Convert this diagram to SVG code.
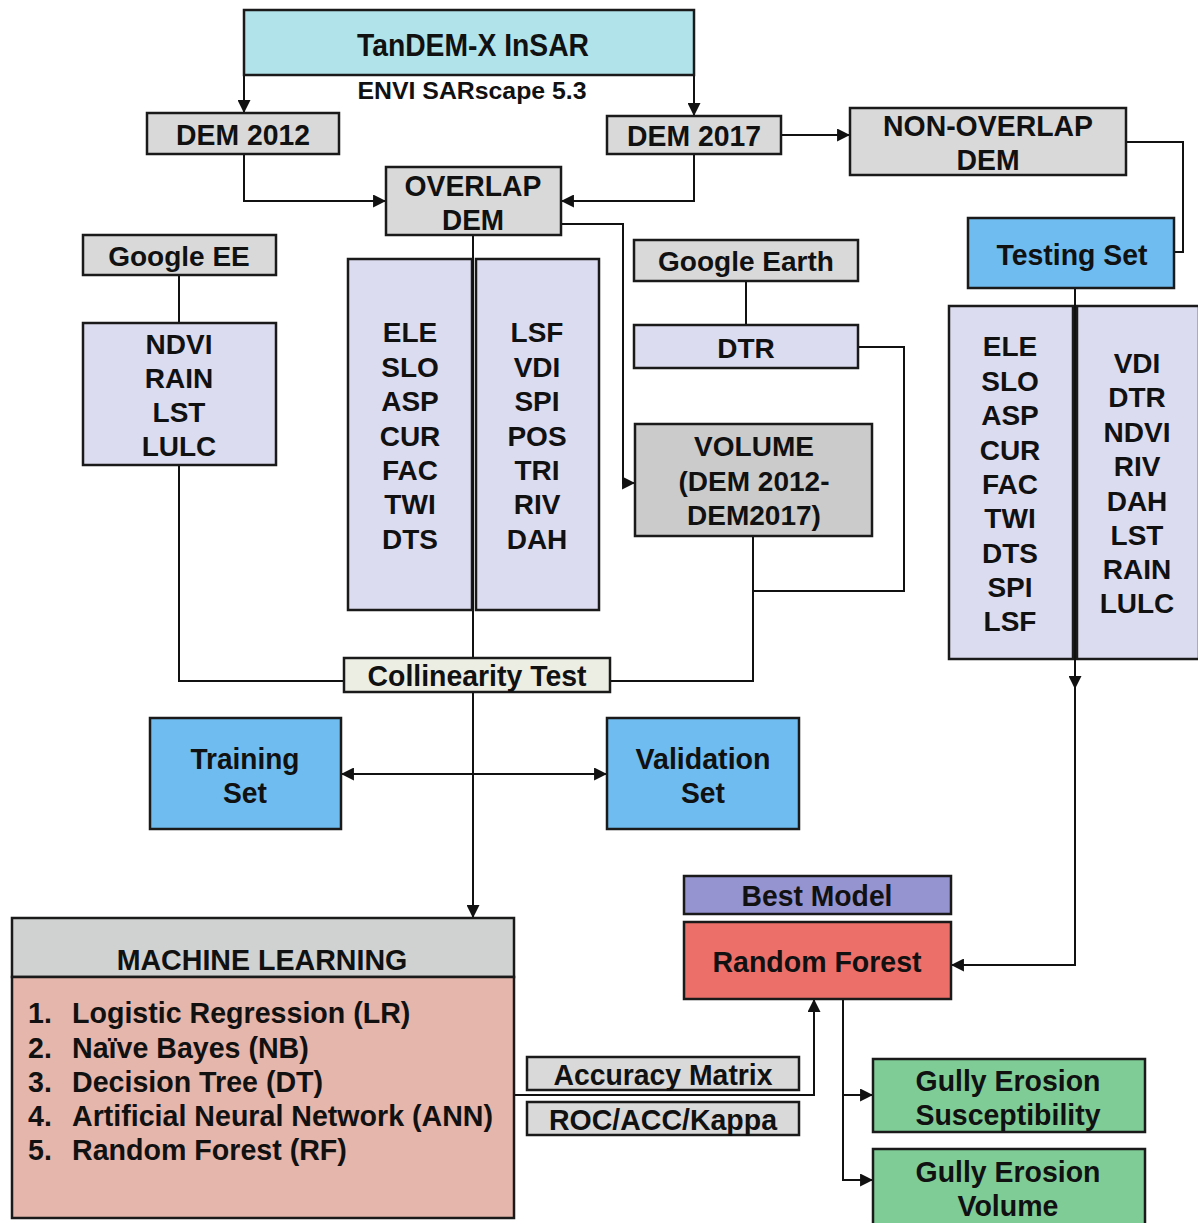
<svg xmlns="http://www.w3.org/2000/svg" width="1198" height="1223" viewBox="0 0 1198 1223">
<defs>
<marker id="ah" viewBox="0 0 12 12" refX="11" refY="6" markerWidth="13" markerHeight="13" markerUnits="userSpaceOnUse" orient="auto-start-reverse">
<path d="M0,0 L12,6 L0,12 z" fill="#111"/>
</marker>
<style>
.b{stroke:#1a1a1a;stroke-width:2.5}
.t{font-family:"Liberation Sans",Arial,sans-serif;font-weight:bold;fill:#111;text-anchor:middle}
.n{font-size:30px}
.r{font-size:28px}
.m{font-size:28.6px}
.l{text-anchor:start}
.c{fill:none;stroke:#111;stroke-width:2}
.gray{fill:#d9d9d9}
.lav{fill:#dcdcf0}
.blue{fill:#6fbcf0}
.green{fill:#7fcc96}
</style>
</defs>
<rect width="1198" height="1223" fill="#fff"/>

<g id="connectors">
<path class="c" d="M244,75 V112" marker-end="url(#ah)"/>
<path class="c" d="M694,75 V115" marker-end="url(#ah)"/>
<path class="c" d="M244,154 V201 H385" marker-end="url(#ah)"/>
<path class="c" d="M694,154 V201 H562" marker-end="url(#ah)"/>
<path class="c" d="M781,135 H849" marker-end="url(#ah)"/>
<path class="c" d="M1126,142 H1183 V252 H1174"/>
<path class="c" d="M561,224 H623 V483 H634" marker-end="url(#ah)"/>
<path class="c" d="M179,275 V323"/>
<path class="c" d="M179,465 V681 H344"/>
<path class="c" d="M746,281 V325"/>
<path class="c" d="M858,347 H904 V591 H753"/>
<path class="c" d="M753,536 V681 H610"/>
<path class="c" d="M473,235 V917" marker-end="url(#ah)"/>
<path class="c" d="M342,774 H606" marker-start="url(#ah)" marker-end="url(#ah)"/>
<path class="c" d="M1075,288 V688" marker-end="url(#ah)"/>
<path class="c" d="M1075,680 V965 H952" marker-end="url(#ah)"/>
<path class="c" d="M514,1095 H814 V1000" marker-end="url(#ah)"/>
<path class="c" d="M843,999 V1180 H872" marker-end="url(#ah)"/>
<path class="c" d="M843,1095 H872" marker-end="url(#ah)"/>
</g>

<g id="tandem">
<rect class="b" x="244" y="10" width="450" height="65" fill="#b0e3ea"/>
<text class="t" x="473" y="56" font-size="32" textLength="232" lengthAdjust="spacingAndGlyphs">TanDEM-X InSAR</text>
</g>
<g id="envi-label">
<text class="t" x="472" y="99" font-size="24" textLength="229" lengthAdjust="spacingAndGlyphs">ENVI SARscape 5.3</text>
</g>
<g id="dem2012">
<rect class="b gray" x="147" y="113" width="192" height="41"/>
<text class="t n" x="243" y="145" textLength="134" lengthAdjust="spacingAndGlyphs">DEM 2012</text>
</g>
<g id="dem2017">
<rect class="b gray" x="607" y="116" width="174" height="38"/>
<text class="t n" x="694" y="146" textLength="134" lengthAdjust="spacingAndGlyphs">DEM 2017</text>
</g>
<g id="nonoverlap">
<rect class="b gray" x="850" y="108" width="276" height="67"/>
<text class="t n" x="988" y="136" textLength="210" lengthAdjust="spacingAndGlyphs">NON-OVERLAP</text>
<text class="t n" x="988" y="170" textLength="63" lengthAdjust="spacingAndGlyphs">DEM</text>
</g>
<g id="overlap">
<rect class="b gray" x="386" y="167" width="175" height="68"/>
<text class="t n" x="473" y="196" textLength="137" lengthAdjust="spacingAndGlyphs">OVERLAP</text>
<text class="t n" x="473" y="230" textLength="62" lengthAdjust="spacingAndGlyphs">DEM</text>
</g>
<g id="googleee">
<rect class="b gray" x="83" y="235" width="193" height="40"/>
<text class="t r" x="179" y="266">Google EE</text>
</g>
<g id="ndvi">
<rect class="b lav" x="83" y="323" width="193" height="142"/>
<text class="t r" x="179" y="354">NDVI</text>
<text class="t r" x="179" y="388">RAIN</text>
<text class="t r" x="179" y="422">LST</text>
<text class="t r" x="179" y="456">LULC</text>
</g>
<g id="dem-factors-left">
<rect class="b lav" x="348" y="259" width="124" height="351"/>
<text class="t r" x="410" y="342">ELE</text>
<text class="t r" x="410" y="377">SLO</text>
<text class="t r" x="410" y="411">ASP</text>
<text class="t r" x="410" y="446">CUR</text>
<text class="t r" x="410" y="480">FAC</text>
<text class="t r" x="410" y="514">TWI</text>
<text class="t r" x="410" y="549">DTS</text>
</g>
<g id="dem-factors-right">
<rect class="b lav" x="476" y="259" width="123" height="351"/>
<text class="t r" x="537" y="342">LSF</text>
<text class="t r" x="537" y="377">VDI</text>
<text class="t r" x="537" y="411">SPI</text>
<text class="t r" x="537" y="446">POS</text>
<text class="t r" x="537" y="480">TRI</text>
<text class="t r" x="537" y="514">RIV</text>
<text class="t r" x="537" y="549">DAH</text>
</g>
<path class="c" d="M473,259 V610"/>
<g id="googleearth">
<rect class="b gray" x="634" y="240" width="224" height="41"/>
<text class="t r" x="746" y="271">Google Earth</text>
</g>
<g id="dtr">
<rect class="b lav" x="634" y="325" width="224" height="43"/>
<text class="t r" x="746" y="358">DTR</text>
</g>
<g id="volume">
<rect class="b" x="635" y="424" width="237" height="112" fill="#cbcbcb"/>
<text class="t r" x="754" y="456">VOLUME</text>
<text class="t r" x="754" y="491">(DEM 2012-</text>
<text class="t r" x="754" y="525">DEM2017)</text>
</g>
<g id="testing">
<rect class="b blue" x="968" y="218" width="206" height="70"/>
<text class="t n" x="1072" y="265" textLength="151" lengthAdjust="spacingAndGlyphs">Testing Set</text>
</g>
<g id="test-factors-left">
<rect class="b lav" x="949" y="306" width="124" height="353"/>
<text class="t r" x="1010" y="356">ELE</text>
<text class="t r" x="1010" y="391">SLO</text>
<text class="t r" x="1010" y="425">ASP</text>
<text class="t r" x="1010" y="460">CUR</text>
<text class="t r" x="1010" y="494">FAC</text>
<text class="t r" x="1010" y="528">TWI</text>
<text class="t r" x="1010" y="563">DTS</text>
<text class="t r" x="1010" y="597">SPI</text>
<text class="t r" x="1010" y="631">LSF</text>
</g>
<g id="test-factors-right">
<rect class="b lav" x="1077" y="306" width="122" height="353"/>
<text class="t r" x="1137" y="373">VDI</text>
<text class="t r" x="1137" y="407">DTR</text>
<text class="t r" x="1137" y="442">NDVI</text>
<text class="t r" x="1137" y="476">RIV</text>
<text class="t r" x="1137" y="511">DAH</text>
<text class="t r" x="1137" y="545">LST</text>
<text class="t r" x="1137" y="579">RAIN</text>
<text class="t r" x="1137" y="613">LULC</text>
</g>
<path class="c" d="M1075,306 V659"/>
<g id="collinearity">
<rect class="b" x="344" y="658" width="266" height="34" fill="#eceee4"/>
<text class="t n" x="477" y="686" textLength="219" lengthAdjust="spacingAndGlyphs">Collinearity Test</text>
</g>
<g id="training">
<rect class="b blue" x="150" y="718" width="191" height="111"/>
<text class="t n" x="245" y="769" textLength="109" lengthAdjust="spacingAndGlyphs">Training</text>
<text class="t n" x="245" y="803" textLength="44" lengthAdjust="spacingAndGlyphs">Set</text>
</g>
<g id="validation">
<rect class="b blue" x="607" y="718" width="192" height="111"/>
<text class="t n" x="703" y="769" textLength="135" lengthAdjust="spacingAndGlyphs">Validation</text>
<text class="t n" x="703" y="803" textLength="44" lengthAdjust="spacingAndGlyphs">Set</text>
</g>
<g id="ml">
<rect class="b" x="12" y="918" width="502" height="59" fill="#d0d2d2"/>
<rect class="b" x="12" y="977" width="502" height="241" fill="#e5b6ab"/>
<text class="t m" x="262" y="970">MACHINE LEARNING</text>
<text class="t m l" x="28" y="1023">1.</text>
<text class="t m l" x="72" y="1023">Logistic Regression (LR)</text>
<text class="t m l" x="28" y="1058">2.</text>
<text class="t m l" x="72" y="1058">Naïve Bayes (NB)</text>
<text class="t m l" x="28" y="1092">3.</text>
<text class="t m l" x="72" y="1092">Decision Tree (DT)</text>
<text class="t m l" x="28" y="1126">4.</text>
<text class="t m l" x="72" y="1126">Artificial Neural Network (ANN)</text>
<text class="t m l" x="28" y="1160">5.</text>
<text class="t m l" x="72" y="1160">Random Forest (RF)</text>
</g>
<g id="bestmodel">
<rect class="b" x="684" y="876" width="267" height="38" fill="#9593d0"/>
<text class="t n" x="817" y="906" textLength="151" lengthAdjust="spacingAndGlyphs">Best Model</text>
</g>
<g id="randomforest">
<rect class="b" x="684" y="922" width="267" height="77" fill="#ec6f69"/>
<text class="t n" x="817" y="972" textLength="209" lengthAdjust="spacingAndGlyphs">Random Forest</text>
</g>
<g id="accuracy">
<rect class="b gray" x="527" y="1057" width="272" height="33"/>
<text class="t n" x="663" y="1085" textLength="219" lengthAdjust="spacingAndGlyphs">Accuracy Matrix</text>
</g>
<g id="roc">
<rect class="b gray" x="527" y="1102" width="272" height="33"/>
<text class="t n" x="663" y="1130" textLength="228" lengthAdjust="spacingAndGlyphs">ROC/ACC/Kappa</text>
</g>
<g id="susceptibility">
<rect class="b green" x="873" y="1059" width="272" height="73"/>
<text class="t n" x="1008" y="1091" textLength="185" lengthAdjust="spacingAndGlyphs">Gully Erosion</text>
<text class="t n" x="1008" y="1125" textLength="185" lengthAdjust="spacingAndGlyphs">Susceptibility</text>
</g>
<g id="gullyvolume">
<rect class="b green" x="873" y="1149" width="272" height="80"/>
<text class="t n" x="1008" y="1182" textLength="185" lengthAdjust="spacingAndGlyphs">Gully Erosion</text>
<text class="t n" x="1008" y="1216" textLength="101" lengthAdjust="spacingAndGlyphs">Volume</text>
</g>
</svg>
